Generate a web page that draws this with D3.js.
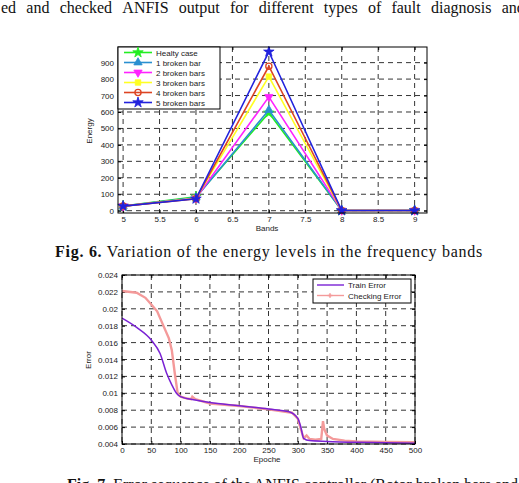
<!DOCTYPE html>
<html>
<head>
<meta charset="utf-8">
<script src="https://cdn.jsdelivr.net/npm/d3@7"></script>
<style>
  html, body { margin: 0; padding: 0; background: #fff; }
  svg { display: block; }
  .tick text { font-family: "Liberation Sans", Arial, sans-serif; font-size: 8px; fill: #222; }
</style>
</head>
<body>
<div id="page"></div>
<script>
// ---- chart 1 data: energy per band ----
const bands = [5, 6, 7, 8, 9];
const seriesNames = ["Healty case", "1 broken bar", "2 broken bars", "3 broken bars", "4 broken bars", "5 broken bars"];
const healthy = [28, 85, 595, 1, 1];
const broken1 = [28, 80, 612, 1, 1];
const broken2 = [28, 76, 692, 1, 1];
const broken3 = [28, 75, 815, 1, 1];
const broken4 = [28, 73, 878, 1, 1];
const broken5 = [28, 72, 966, 1, 1];
const bandTicks = [5, 5.5, 6, 6.5, 7, 7.5, 8, 8.5, 9];
const energyTicks = [0, 100, 200, 300, 400, 500, 600, 700, 800, 900];

// ---- chart 2 data: ANFIS errors ----
const trainEpochs = [0, 25, 50, 65, 76, 85, 93, 100, 125, 150, 200, 250, 285, 300, 305, 310, 320, 350, 400, 450, 500];
const trainError = [0.0189, 0.0178, 0.0163, 0.0147, 0.0124, 0.0110, 0.0100, 0.0096, 0.0092, 0.0089, 0.00853, 0.00814, 0.00782, 0.00704, 0.00605, 0.00467, 0.0044, 0.0043, 0.0042, 0.00415, 0.0041];
const checkEpochs = [0, 25, 40, 50, 60, 70, 80, 85, 90, 95, 100, 110, 118, 120, 125, 150, 200, 250, 290, 300, 305, 310, 315, 320, 330, 340, 343, 345, 350, 360, 380, 400, 450, 500];
const checkError = [0.0221, 0.0219, 0.0213, 0.0205, 0.0197, 0.0181, 0.0165, 0.0151, 0.0124, 0.0100, 0.0096, 0.0094, 0.0093, 0.0096, 0.0093, 0.0088, 0.0085, 0.0081, 0.0077, 0.0070, 0.0058, 0.0047, 0.0050, 0.0046, 0.0045, 0.0046, 0.0067, 0.0058, 0.0050, 0.0046, 0.0044, 0.0043, 0.00425, 0.0042];
const epochTicks = [0, 50, 100, 150, 200, 250, 300, 350, 400, 450, 500];
const errorTicks = [0.004, 0.006, 0.008, 0.01, 0.012, 0.014, 0.016, 0.018, 0.02, 0.022, 0.024];

const W = 519, H = 483;
const svg = d3.select("#page").append("svg").attr("width", W).attr("height", H);

// justified line of body text: place each word, last word starts at `lastX`
function justifyWords(words, x0, lastX, y, size) {
    const g = svg.append("g");
    const ws = words.map(w => {
        const t = g.append("text").attr("y", y)
            .style("font-family", "'Liberation Serif', 'Times New Roman', serif")
            .style("font-size", size + "px").style("fill", "#111").text(w);
        return { t, w: t.node().getComputedTextLength() };
    });
    const sum = d3.sum(ws.slice(0, -1), d => d.w);
    const gap = (lastX - x0 - sum) / (ws.length - 1);
    let x = x0;
    ws.forEach(d => { d.t.attr("x", x); x += d.w + gap; });
}

function caption(bold, rest, x0, x1, y) {
    const t = svg.append("text").attr("x", x0).attr("y", y)
        .style("font-family", "'Liberation Serif', 'Times New Roman', serif")
        .style("font-size", "16px").style("fill", "#111");
    t.append("tspan").style("font-weight", "bold").text(bold);
    t.append("tspan").text(rest);
    if (x1) {
        const len = t.node().getComputedTextLength();
        const n = (bold + rest).length;
        t.style("letter-spacing", ((x1 - x0 - len) / n) + "px");
    }
}

justifyWords("ed and checked ANFIS output for different types of fault diagnosis and".split(" "), 1, 501.7, 13, 16);

// ---------- chart 1 ----------
const p1 = { left: 118, right: 427, top: 47, bottom: 213 };
const x1 = d3.scaleLinear().domain([4.93, 9.17]).range([p1.left, p1.right]);
const y1 = d3.scaleLinear().domain([-14, 995]).range([p1.bottom, p1.top]);

function frame(p, x, y, xt, yt, xfmt, yfmt) {
    const g = svg.append("g");
    // dashed grid
    g.selectAll(".gx").data(xt).join("line")
        .attr("x1", d => x(d)).attr("x2", d => x(d))
        .attr("y1", p.top).attr("y2", p.bottom)
        .attr("stroke", "#000").attr("stroke-width", 0.8).attr("stroke-dasharray", "5,4");
    g.selectAll(".gy").data(yt).join("line")
        .attr("y1", d => y(d)).attr("y2", d => y(d))
        .attr("x1", p.left).attr("x2", p.right)
        .attr("stroke", "#000").attr("stroke-width", 0.8).attr("stroke-dasharray", "5,4");
    // axes with inward ticks
    svg.append("g").attr("transform", `translate(0,${p.bottom})`)
        .call(d3.axisBottom(x).tickValues(xt).tickFormat(xfmt).tickSizeInner(-3).tickSizeOuter(0).tickPadding(3))
        .call(a => a.select(".domain").remove());
    svg.append("g").attr("transform", `translate(${p.left},0)`)
        .call(d3.axisLeft(y).tickValues(yt).tickFormat(yfmt).tickSizeInner(-3).tickSizeOuter(0).tickPadding(4))
        .call(a => a.select(".domain").remove());
    svg.append("g").attr("transform", `translate(0,${p.top})`)
        .call(d3.axisTop(x).tickValues(xt).tickFormat("").tickSizeInner(-3).tickSizeOuter(0))
        .call(a => a.select(".domain").remove());
    svg.append("g").attr("transform", `translate(${p.right},0)`)
        .call(d3.axisRight(y).tickValues(yt).tickFormat("").tickSizeInner(-3).tickSizeOuter(0))
        .call(a => a.select(".domain").remove());
    svg.selectAll(".tick line").attr("stroke", "#000");
    return g;
}

function box(p) {
    svg.append("rect").attr("x", p.left).attr("y", p.top)
        .attr("width", p.right - p.left).attr("height", p.bottom - p.top)
        .attr("fill", "none").attr("stroke", "#000").attr("stroke-width", 1);
}

frame(p1, x1, y1, bandTicks, energyTicks, d3.format(""), d3.format(""));

const series1 = [healthy, broken1, broken2, broken3, broken4, broken5];
const colors1 = ["#22ee22", "#2a8fd0", "#ff22ff", "#ffff22", "#dd4422", "#2222dd"];
const symbols1 = [
    { type: d3.symbolStar, size: 34, rot: 0, fill: true },
    { type: d3.symbolTriangle, size: 30, rot: 0, fill: true },
    { type: d3.symbolTriangle, size: 30, rot: 180, fill: true },
    { type: d3.symbolSquare, size: 30, rot: 0, fill: true },
    { type: d3.symbolCircle, size: 30, rot: 0, fill: false },
    { type: d3.symbolStar, size: 34, rot: 0, fill: true }
];

const line1 = d3.line().x((d, i) => x1(bands[i])).y(d => y1(d));

function marker(g, s, c, x, y) {
    g.append("path")
        .attr("d", d3.symbol().type(s.type).size(s.size)())
        .attr("transform", `translate(${x},${y}) rotate(${s.rot})`)
        .attr("fill", s.fill ? c : "none")
        .attr("stroke", c).attr("stroke-width", s.fill ? 0.8 : 1.3);
}

const plot1 = svg.append("g");
series1.forEach((vals, k) => {
    plot1.append("path").datum(vals).attr("d", line1)
        .attr("fill", "none").attr("stroke", colors1[k]).attr("stroke-width", 1.6);
    vals.forEach((v, i) => marker(plot1, symbols1[k], colors1[k], x1(bands[i]), y1(v)));
});
box(p1);

// legend 1
const lg1 = svg.append("g");
lg1.append("rect").attr("x", 118).attr("y", 47).attr("width", 102).attr("height", 62)
    .attr("fill", "#fff").attr("stroke", "#000").attr("stroke-width", 1);
seriesNames.forEach((name, k) => {
    const yy = 52.5 + k * 10;
    lg1.append("line").attr("x1", 124).attr("x2", 152).attr("y1", yy).attr("y2", yy)
        .attr("stroke", colors1[k]).attr("stroke-width", 1.6);
    marker(lg1, symbols1[k], colors1[k], 138, yy);
    lg1.append("text").attr("x", 156).attr("y", yy + 3)
        .style("font-family", "'Liberation Sans', Arial, sans-serif").style("font-size", "8px")
        .style("fill", "#222").text(name);
});

svg.append("text").attr("transform", "translate(92,131) rotate(-90)").attr("text-anchor", "middle")
    .style("font-family", "'Liberation Sans', Arial, sans-serif").style("font-size", "8px").style("fill", "#222").text("Energy");
svg.append("text").attr("x", 267).attr("y", 231).attr("text-anchor", "middle")
    .style("font-family", "'Liberation Sans', Arial, sans-serif").style("font-size", "8px").style("fill", "#222").text("Bands");

caption("Fig. 6.", " Variation of the energy levels in the frequency bands", 55, 483, 257);

// ---------- chart 2 ----------
const p2 = { left: 122, right: 415, top: 275, bottom: 444 };
const x2 = d3.scaleLinear().domain([0, 500]).range([p2.left, p2.right]);
const y2 = d3.scaleLinear().domain([0.004, 0.024]).range([p2.bottom, p2.top]);

frame(p2, x2, y2, epochTicks, errorTicks, d3.format(""), d => String(+d.toFixed(3)));

const plot2 = svg.append("g");
plot2.append("path").datum(checkError)
    .attr("d", d3.line().x((d, i) => x2(checkEpochs[i])).y(d => y2(d)))
    .attr("fill", "none").attr("stroke", "#f49a9a").attr("stroke-width", 2.4);
plot2.append("path").datum(trainError)
    .attr("d", d3.line().x((d, i) => x2(trainEpochs[i])).y(d => y2(d)).curve(d3.curveMonotoneX))
    .attr("fill", "none").attr("stroke", "#7a22d4").attr("stroke-width", 1.5);
box(p2);

// legend 2
const lg2 = svg.append("g");
lg2.append("rect").attr("x", 313).attr("y", 279).attr("width", 98).attr("height", 24)
    .attr("fill", "#fff").attr("stroke", "#000").attr("stroke-width", 1);
[["Train Error", "#7a22d4"], ["Checking Error", "#f49a9a"]].forEach(([name, c], k) => {
    const yy = 285 + k * 10.5;
    lg2.append("line").attr("x1", 317).attr("x2", 344).attr("y1", yy).attr("y2", yy)
        .attr("stroke", c).attr("stroke-width", 1.4);
    if (k === 1) {
        lg2.append("path").attr("d", d3.symbol().type(d3.symbolCross).size(12)())
            .attr("transform", `translate(330,${yy})`).attr("fill", c);
    }
    lg2.append("text").attr("x", 348).attr("y", yy + 3)
        .style("font-family", "'Liberation Sans', Arial, sans-serif").style("font-size", "8px")
        .style("fill", "#222").text(name);
});

svg.append("text").attr("transform", "translate(91,360) rotate(-90)").attr("text-anchor", "middle")
    .style("font-family", "'Liberation Sans', Arial, sans-serif").style("font-size", "8px").style("fill", "#222").text("Error");
svg.append("text").attr("x", 267).attr("y", 462).attr("text-anchor", "middle")
    .style("font-family", "'Liberation Sans', Arial, sans-serif").style("font-size", "8px").style("fill", "#222").text("Epoche");

caption("Fig. 7.", " Error sequence of the ANFIS controller (Rotor broken bars and", 67, null, 490);
</script>
</body>
</html>
